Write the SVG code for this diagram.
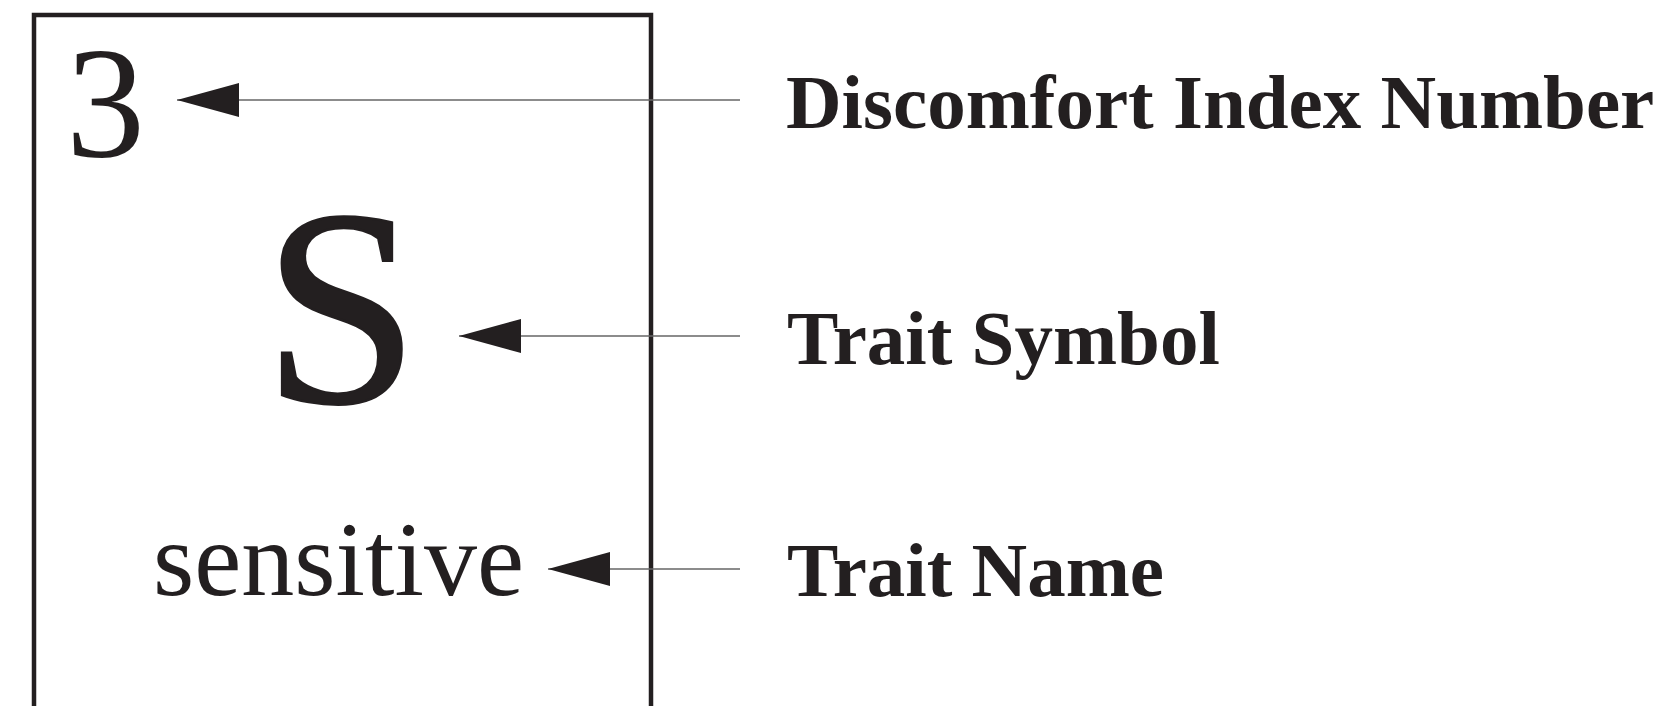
<svg xmlns="http://www.w3.org/2000/svg" width="1668" height="706" viewBox="0 0 1668 706">
<style>
.card{fill:none;stroke:#231f20;stroke-width:4.5}
.conn{stroke:#666;stroke-width:1.5;fill:none}
.ser{font-family:"Liberation Serif","Times New Roman",serif;fill:#231f20}
.lbl{font-family:"Liberation Serif","Times New Roman",serif;font-weight:bold;font-size:77px;fill:#231f20}
</style>
<defs>
<marker id="ah" markerUnits="userSpaceOnUse" markerWidth="70" markerHeight="40" viewBox="-65 -20 70 40" refX="0" refY="0" orient="auto">
<path d="M-62,-17 L0,0 L-62,17 Z" fill="#231f20"/>
</marker>
</defs>
<rect width="1668" height="706" fill="#fff"/>
<g id="card">
<rect class="card" x="34" y="15" width="617" height="740"/>
</g>
<g id="number">
<text class="ser" x="66" y="156" font-size="158">3</text>
</g>
<g id="symbol">
<text class="ser" x="341" y="402" font-size="280" text-anchor="middle" stroke="#231f20" stroke-width="2.5">S</text>
</g>
<g id="name">
<text class="ser" x="153" y="595" font-size="106">sensitive</text>
</g>
<g id="label-number">
<text class="lbl" x="786" y="128">Discomfort Index Number</text>
</g>
<g id="label-symbol">
<text class="lbl" x="787" y="364">Trait Symbol</text>
</g>
<g id="label-name">
<text class="lbl" x="787" y="596">Trait Name</text>
</g>
<g id="connectors">
<line class="conn" x1="740" y1="100" x2="177" y2="100" marker-end="url(#ah)"/>
<line class="conn" x1="740" y1="336" x2="459" y2="336" marker-end="url(#ah)"/>
<line class="conn" x1="740" y1="569" x2="548" y2="569" marker-end="url(#ah)"/>
</g>
</svg>
